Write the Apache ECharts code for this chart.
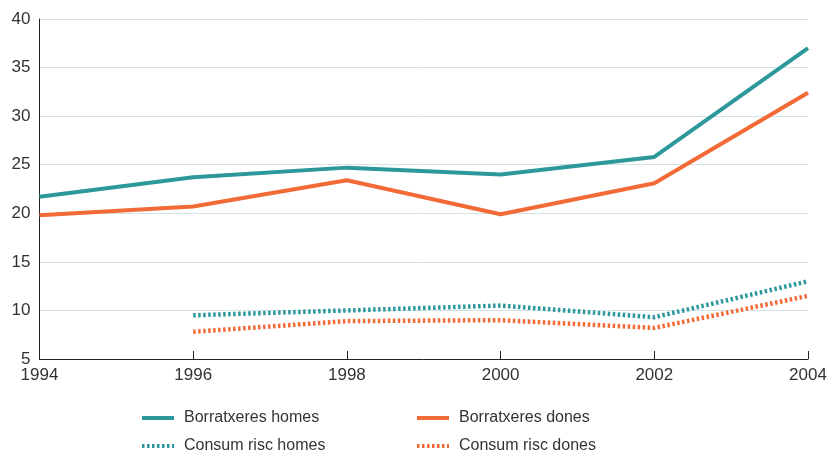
<!DOCTYPE html>
<html>
<head>
<meta charset="utf-8">
<script src="https://cdn.jsdelivr.net/npm/echarts@6/dist/echarts.min.js"></script>
<style>
  html, body { margin: 0; padding: 0; background: #fff; }
  #chart { width: 831px; height: 452px; }
</style>
</head>
<body>
<div id="chart"></div>
<script>
// anys (eix X)
var years = ['1994', '1996', '1998', '2000', '2002', '2004']
// sèries
var borratxeresHomes = [21.7, 23.7, 24.7, 24.0, 25.8, 37.0]
var borratxeresDones = [19.8, 20.7, 23.4, 19.9, 23.1, 32.4]
var consumRiscHomes = ['-', 9.5, 10.0, 10.5, 9.3, 13.0]
var consumRiscDones = ['-', 7.8, 8.9, 9.0, 8.2, 11.5]

var teal = '#2c989c'
var orange = '#f26a36'
var font = 'Liberation Sans, Arial, sans-serif'

var chart = echarts.init(document.getElementById('chart'))

// una llegenda per element, per col·locar-les en dues columnes
function legendItem(left, top, name) {
  return {
    left: left,
    top: top,
    itemWidth: 32,
    itemHeight: 14,
    data: [name],
    itemStyle: { opacity: 0 },
    lineStyle: { width: 4 },
    textStyle: { fontFamily: font, fontSize: 16, color: '#333', padding: [0, 0, 0, 5] },
  }
}

var option = {
  animation: false,
  backgroundColor: '#fff',
  grid: { left: 39.5, right: 23, top: 19, bottom: 93 },
  legend: [
    legendItem(135, 405, 'Borratxeres homes'),
    legendItem(135, 433, 'Consum risc homes'),
    legendItem(410, 405, 'Borratxeres dones'),
    legendItem(410, 433, 'Consum risc dones'),
  ],
  xAxis: {
    type: 'category',
    data: years,
    boundaryGap: false,
    axisLine: { lineStyle: { color: '#222', width: 1 } },
    axisTick: { inside: true, length: 8, lineStyle: { color: '#222' } },
    axisLabel: { color: '#333', fontFamily: font, fontSize: 17, margin: 8 },
    splitLine: { show: false },
  },
  yAxis: {
    type: 'value',
    min: 5,
    max: 40,
    interval: 5,
    axisLine: { show: true, lineStyle: { color: '#222', width: 1 } },
    axisTick: { show: false },
    axisLabel: { color: '#333', fontFamily: font, fontSize: 17, margin: 9 },
    splitLine: { lineStyle: { color: '#d3e3e6', width: 1 } },
  },
  series: [
    {
      name: 'Borratxeres homes',
      type: 'line',
      data: borratxeresHomes,
      symbol: 'none',
      color: teal,
      lineStyle: { width: 4, color: teal },
    },
    {
      name: 'Borratxeres dones',
      type: 'line',
      data: borratxeresDones,
      symbol: 'none',
      color: orange,
      lineStyle: { width: 4, color: orange },
    },
    {
      name: 'Consum risc homes',
      type: 'line',
      data: consumRiscHomes,
      symbol: 'none',
      color: teal,
      lineStyle: { width: 4.5, color: teal, type: [2.5, 2.5] },
    },
    {
      name: 'Consum risc dones',
      type: 'line',
      data: consumRiscDones,
      symbol: 'none',
      color: orange,
      lineStyle: { width: 4.5, color: orange, type: [2.5, 2.5] },
    },
  ],
}
chart.setOption(option)
</script>
</body>
</html>
